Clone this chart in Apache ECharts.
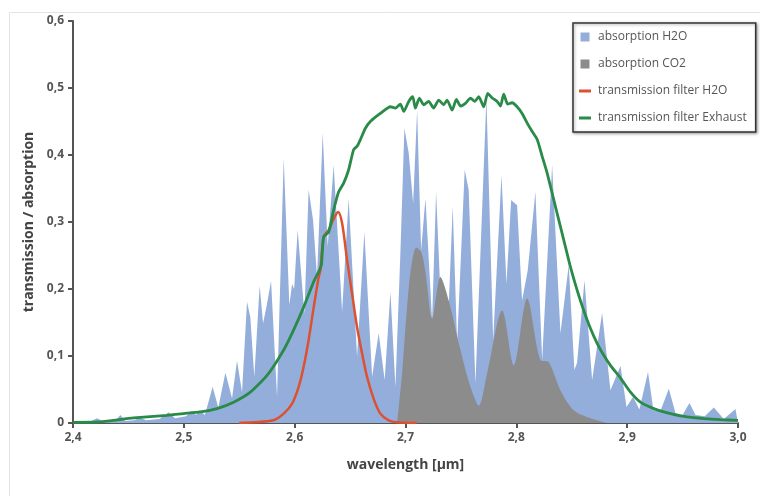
<!DOCTYPE html>
<html>
<head>
<meta charset="utf-8">
<script src="https://cdn.jsdelivr.net/npm/echarts@6/dist/echarts.min.js"></script>
<style>
  html, body { margin: 0; padding: 0; background: #fff; }
  #chart { width: 760px; height: 496px; }
</style>
</head>
<body>
<div id="chart"></div>
<script>
// wavelength [µm] -> value
const h2oAbsorption = [
  [2.400, 0.000], [2.415, 0.002], [2.4217, 0.007], [2.428, 0.002], [2.438, 0.003],
  [2.4427, 0.012], [2.447, 0.003], [2.455, 0.004], [2.4607, 0.008], [2.466, 0.004],
  [2.478, 0.006], [2.4863, 0.016], [2.492, 0.007], [2.502, 0.010], [2.5074, 0.018],
  [2.511, 0.012], [2.5143, 0.019], [2.519, 0.012], [2.526, 0.054], [2.5311, 0.023],
  [2.5375, 0.075], [2.5435, 0.037], [2.548, 0.093], [2.5525, 0.046], [2.557, 0.181],
  [2.560, 0.158], [2.5636, 0.069], [2.5684, 0.205], [2.5715, 0.149], [2.5745, 0.173],
  [2.5787, 0.212], [2.5841, 0.039], [2.5901, 0.395], [2.5952, 0.176], [2.5977, 0.208],
  [2.5995, 0.200], [2.6027, 0.288], [2.6088, 0.163], [2.6126, 0.348], [2.6166, 0.303],
  [2.6202, 0.218], [2.6253, 0.433], [2.6298, 0.263], [2.6352, 0.385], [2.6428, 0.166],
  [2.6487, 0.335], [2.6563, 0.099], [2.6629, 0.285], [2.6699, 0.069], [2.6758, 0.134],
  [2.6812, 0.064], [2.6864, 0.196], [2.6909, 0.054], [2.6954, 0.254], [2.699, 0.440],
  [2.7029, 0.403], [2.7069, 0.328], [2.7105, 0.467], [2.7141, 0.258], [2.718, 0.335],
  [2.724, 0.153], [2.7276, 0.345], [2.7315, 0.193], [2.7375, 0.114], [2.7426, 0.323],
  [2.7466, 0.119], [2.7534, 0.378], [2.757, 0.348], [2.7631, 0.059], [2.773, 0.485],
  [2.7791, 0.124], [2.7866, 0.370], [2.7911, 0.208], [2.7953, 0.333], [2.8007, 0.325],
  [2.8052, 0.183], [2.8103, 0.228], [2.8172, 0.345], [2.8233, 0.094], [2.8323, 0.385],
  [2.8398, 0.134], [2.8473, 0.236], [2.8524, 0.079], [2.8548, 0.090], [2.8615, 0.213],
  [2.8684, 0.064], [2.8774, 0.164], [2.8849, 0.049], [2.894, 0.085], [2.8994, 0.024],
  [2.9054, 0.039], [2.911, 0.020], [2.9188, 0.076], [2.9237, 0.019], [2.930, 0.018],
  [2.9376, 0.051], [2.9436, 0.015], [2.950, 0.012], [2.9562, 0.030], [2.9617, 0.012],
  [2.970, 0.010], [2.9782, 0.023], [2.9872, 0.006], [2.9977, 0.021], [3.000, 0.000]
];

const co2Absorption = [
  [2.6924, 0.000], [2.6969, 0.074], [2.7014, 0.173], [2.7053, 0.235], [2.7098, 0.262],
  [2.7143, 0.255], [2.718, 0.225], [2.724, 0.156], [2.7315, 0.218], [2.739, 0.183],
  [2.7496, 0.109], [2.7586, 0.054], [2.7661, 0.026], [2.7736, 0.074], [2.7872, 0.168],
  [2.7977, 0.086], [2.8097, 0.186], [2.8217, 0.094], [2.8292, 0.091], [2.8398, 0.049],
  [2.8518, 0.019], [2.8669, 0.007], [2.8819, 0.000]
];

const filterH2O = [
  [2.550, 0.000], [2.5627, 0.001], [2.5808, 0.004], [2.5901, 0.014], [2.5977, 0.029],
  [2.6036, 0.054], [2.6081, 0.084], [2.6126, 0.124], [2.6172, 0.173], [2.6217, 0.218],
  [2.6232, 0.228], [2.6262, 0.278], [2.6307, 0.288], [2.6347, 0.303], [2.6392, 0.315],
  [2.6428, 0.298], [2.6473, 0.243], [2.6518, 0.193], [2.6563, 0.143], [2.6608, 0.104],
  [2.6653, 0.069], [2.6713, 0.036], [2.6773, 0.014], [2.6848, 0.004], [2.6924, 0.001],
  [2.710, 0.000]
];

const filterExhaust = [
  [2.400, 0.001], [2.4217, 0.0015], [2.4547, 0.0075], [2.4848, 0.0115], [2.4998, 0.014],
  [2.5149, 0.0165], [2.530, 0.0215], [2.5449, 0.031], [2.560, 0.046], [2.5751, 0.071],
  [2.5901, 0.109], [2.5991, 0.139], [2.6081, 0.173], [2.6172, 0.211], [2.6217, 0.226],
  [2.6241, 0.236], [2.625, 0.256], [2.6262, 0.278], [2.6307, 0.285], [2.6352, 0.318],
  [2.6397, 0.345], [2.6442, 0.358], [2.6487, 0.378], [2.6532, 0.408], [2.6563, 0.413],
  [2.6593, 0.423], [2.6638, 0.440], [2.6683, 0.450], [2.6773, 0.462], [2.6864, 0.472],
  [2.6909, 0.470], [2.6954, 0.476], [2.6984, 0.465], [2.7029, 0.480], [2.7065, 0.487],
  [2.7089, 0.470], [2.7125, 0.485], [2.7164, 0.475], [2.7209, 0.480], [2.7254, 0.470],
  [2.730, 0.482], [2.7345, 0.475], [2.7375, 0.482], [2.7421, 0.467], [2.7459, 0.483],
  [2.7496, 0.473], [2.7541, 0.477], [2.7586, 0.485], [2.7625, 0.480], [2.7661, 0.487],
  [2.7706, 0.472], [2.7742, 0.492], [2.7782, 0.485], [2.7827, 0.480], [2.7857, 0.473],
  [2.7886, 0.491], [2.7922, 0.476], [2.7962, 0.478], [2.8007, 0.472], [2.8052, 0.462],
  [2.8097, 0.448], [2.8143, 0.435], [2.8188, 0.423], [2.8233, 0.398], [2.8278, 0.373],
  [2.8308, 0.353], [2.8368, 0.313], [2.8428, 0.273], [2.8488, 0.233], [2.8549, 0.198],
  [2.8608, 0.168], [2.8669, 0.141], [2.8729, 0.119], [2.8789, 0.101], [2.8849, 0.086],
  [2.894, 0.067], [2.903, 0.046], [2.912, 0.031], [2.924, 0.0215], [2.9391, 0.014],
  [2.9541, 0.009], [2.9691, 0.0066], [2.9842, 0.005], [3.000, 0.004]
];

const xTickLabels = ['2,4', '2,5', '2,6', '2,7', '2,8', '2,9', '3,0'];
const yTickLabels = ['0', '0,1', '0,2', '0,3', '0,4', '0,5', '0,6'];
const seriesNames = ['absorption H2O', 'absorption CO2', 'transmission filter H2O', 'transmission filter Exhaust'];

const axisColor = '#555';
const font = '"Open Sans", "DejaVu Sans", sans-serif';

const chart = echarts.init(document.getElementById('chart'));

chart.setOption({
  backgroundColor: '#fff',
  animation: false,
  textStyle: { fontFamily: font },
  graphic: [{
    type: 'rect',
    shape: { x: 9.5, y: 12.5, width: 800, height: 600 },
    style: { fill: 'none', stroke: '#e4e4e4', lineWidth: 1 },
    silent: true,
    z: -1
  }],
  grid: { left: 73, right: 22, top: 21, bottom: 73 },
  legend: {
    orient: 'vertical',
    left: 573,
    top: 23,
    padding: [7, 9, 7, 6],
    itemWidth: 12,
    itemHeight: 9,
    itemGap: 13,
    backgroundColor: '#fff',
    borderColor: '#333',
    borderWidth: 1.5,
    shadowColor: 'rgba(0,0,0,0.35)',
    shadowBlur: 3,
    shadowOffsetX: 1,
    shadowOffsetY: 1,
    textStyle: { color: '#555', fontSize: 12, lineHeight: 14, padding: [0, 0, 0, 2], fontFamily: font },
    data: [
      { name: seriesNames[0], icon: 'path://M0,0h9v9h-9z' },
      { name: seriesNames[1], icon: 'path://M0,0h9v9h-9z' },
      { name: seriesNames[2], icon: 'path://M0,0h12v3h-12z' },
      { name: seriesNames[3], icon: 'path://M0,0h12v3h-12z' }
    ]
  },
  xAxis: {
    type: 'value',
    min: 2.4,
    max: 3.0,
    interval: 0.1,
    name: 'wavelength [µm]',
    nameLocation: 'middle',
    nameGap: 35,
    nameTextStyle: { color: '#444', fontSize: 14, fontWeight: 'bold', fontFamily: font },
    axisLine: { show: true, lineStyle: { color: axisColor, width: 2 } },
    axisTick: { show: true, length: 5, lineStyle: { color: axisColor, width: 2 } },
    axisLabel: {
      margin: 9,
      color: axisColor,
      fontSize: 12,
      fontWeight: 'bold',
      formatter: v => xTickLabels[Math.round((v - 2.4) / 0.1)]
    },
    splitLine: { show: false }
  },
  yAxis: {
    type: 'value',
    min: 0,
    max: 0.6,
    interval: 0.1,
    name: 'transmission / absorption',
    nameLocation: 'middle',
    nameGap: 33,
    nameTextStyle: { color: '#444', fontSize: 14, fontWeight: 'bold', fontFamily: font },
    axisLine: { show: true, lineStyle: { color: axisColor, width: 2 } },
    axisTick: { show: true, length: 5, lineStyle: { color: axisColor, width: 2 } },
    axisLabel: {
      margin: 9,
      color: axisColor,
      fontSize: 12,
      fontWeight: 'bold',
      formatter: v => yTickLabels[Math.round(v / 0.1)]
    },
    splitLine: { show: false }
  },
  series: [
    {
      name: seriesNames[0],
      type: 'line',
      data: h2oAbsorption,
      showSymbol: false,
      symbol: 'none',
      itemStyle: { color: '#94aedb' },
      lineStyle: { width: 0, color: '#94aedb' },
      areaStyle: { color: '#94aedb', opacity: 1 },
      z: 1
    },
    {
      name: seriesNames[1],
      type: 'line',
      data: co2Absorption,
      smooth: 0.3,
      showSymbol: false,
      symbol: 'none',
      itemStyle: { color: '#8c8c8c' },
      lineStyle: { width: 0, color: '#8c8c8c' },
      areaStyle: { color: '#8c8c8c', opacity: 1 },
      z: 2
    },
    {
      name: seriesNames[2],
      type: 'line',
      data: filterH2O,
      smooth: 0.3,
      showSymbol: false,
      symbol: 'none',
      itemStyle: { color: '#dd5030' },
      lineStyle: { width: 2.5, color: '#dd5030' },
      z: 3
    },
    {
      name: seriesNames[3],
      type: 'line',
      data: filterExhaust,
      smooth: 0.2,
      showSymbol: false,
      symbol: 'none',
      itemStyle: { color: '#2a8a48' },
      lineStyle: { width: 2.8, color: '#2a8a48' },
      z: 4
    }
  ]
});

window.addEventListener('resize', () => chart.resize());
</script>
</body>
</html>
